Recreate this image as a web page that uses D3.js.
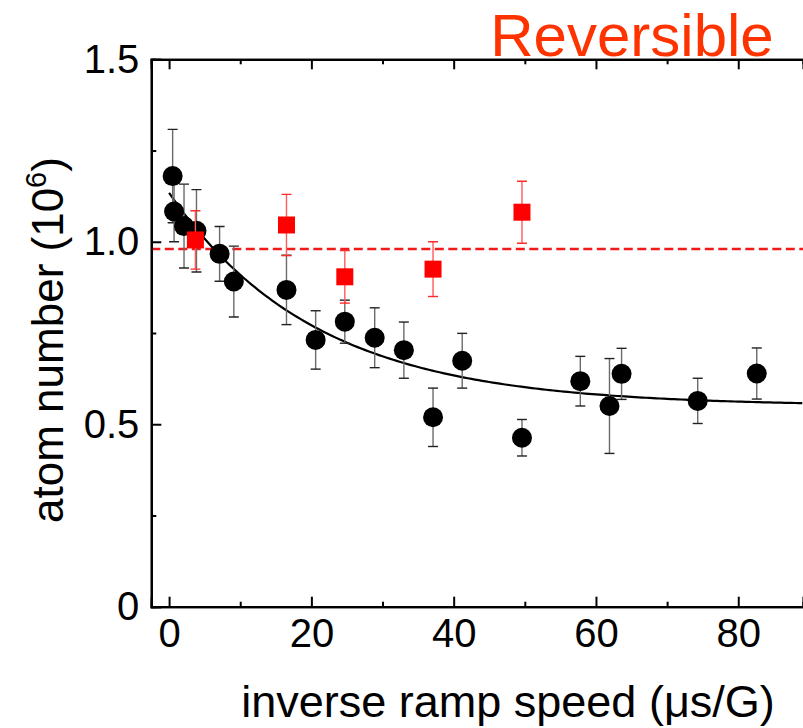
<!DOCTYPE html>
<html>
<head>
<meta charset="utf-8">
<script src="https://cdn.jsdelivr.net/npm/d3@7"></script>
<style>
  html, body { margin: 0; padding: 0; background: #fff; }
  svg { display: block; font-family: "Liberation Sans", Arial, sans-serif; }
</style>
</head>
<body>
<svg id="chart" width="803" height="728"></svg>
<script>
// Atom number after a ramp, vs. inverse ramp speed
const rampX     = [0.5, 0.7, 2.1, 3.85, 7.1, 9.1, 16.5, 20.6, 24.7, 28.9, 33.0, 37.1, 41.2, 49.6, 57.8, 61.9, 63.6, 74.3, 82.6];
const rampY     = [1.18, 1.083, 1.043, 1.03, 0.967, 0.891, 0.868, 0.731, 0.781, 0.737, 0.703, 0.519, 0.674, 0.463, 0.618, 0.55, 0.638, 0.564, 0.639];
const rampErr   = [0.128, 0.083, 0.115, 0.113, 0.075, 0.097, 0.095, 0.08, 0.059, 0.082, 0.077, 0.08, 0.075, 0.05, 0.068, 0.13, 0.07, 0.062, 0.07];

// Reversible (round-trip) ramp
const revX      = [3.7, 16.5, 24.7, 37.1, 49.6];
const revY      = [1.005, 1.046, 0.904, 0.925, 1.081];
const revErr    = [0.08, 0.084, 0.072, 0.075, 0.085];

// Reference level (no ramp)
const refLevel  = [0.98];

// Exponential fit: offset, amplitude, decay constant (µs/G)
const fitParams = [0.55, 0.584, 20.6];

const xTicksMajor = [0, 20, 40, 60, 80];
const xTicksMinor = [10, 30, 50, 70];
const yTicksMajor = [0, 0.5, 1.0, 1.5];
const yTickLabels = ["0", "0.5", "1.0", "1.5"];
const yTicksMinor = [0.25, 0.75, 1.25];

const svg = d3.select("#chart");
const L = 151.3, R = 803, T = 59.3, B = 606.7;

const x = d3.scaleLinear().domain([-2.5, 89.1]).range([L, R]);
const y = d3.scaleLinear().domain([0, 1.5]).range([B, T]);

svg.append("defs").append("clipPath").attr("id", "plotclip")
  .append("rect").attr("x", L).attr("y", T - 20).attr("width", R - L).attr("height", B - T + 20);

const plot = svg.append("g").attr("clip-path", "url(#plotclip)");

// dashed reference line
plot.append("line")
  .attr("x1", x(-2.5)).attr("x2", x(89.1))
  .attr("y1", y(refLevel[0])).attr("y2", y(refLevel[0]))
  .attr("stroke", "#f01a1a").attr("stroke-width", 2.4)
  .attr("stroke-dasharray", "9,4.5");

// fitted curve
const [c0, a0, tau] = fitParams;
const fitXs = d3.range(0, 89.2, 0.5);
plot.append("path")
  .datum(fitXs)
  .attr("fill", "none").attr("stroke", "#000").attr("stroke-width", 2.2)
  .attr("d", d3.line().x(d => x(d)).y(d => y(c0 + a0 * Math.exp(-d / tau))));

function errorBars(g, xs, ys, es, barColor, capColor) {
  const gg = g.append("g");
  xs.forEach((xv, i) => {
    const px = x(xv), top = y(ys[i] + es[i]), bot = y(ys[i] - es[i]);
    gg.append("line").attr("x1", px).attr("x2", px).attr("y1", top).attr("y2", bot)
      .attr("stroke", barColor).attr("stroke-width", 1.4);
    [top, bot].forEach(py => {
      gg.append("line").attr("x1", px - 5).attr("x2", px + 5).attr("y1", py).attr("y2", py)
        .attr("stroke", capColor).attr("stroke-width", 1.4);
    });
  });
}

errorBars(plot, rampX, rampY, rampErr, "#6a6a6a", "#222");
plot.append("g").selectAll("circle").data(rampX).join("circle")
  .attr("cx", d => x(d)).attr("cy", (d, i) => y(rampY[i])).attr("r", 10)
  .attr("fill", "#000");

errorBars(plot, revX, revY, revErr, "#ff5a5a", "#ff2a2a");
plot.append("g").selectAll("rect").data(revX).join("rect")
  .attr("x", d => x(d) - 8.5).attr("y", (d, i) => y(revY[i]) - 8.5)
  .attr("width", 17).attr("height", 17)
  .attr("fill", "#ff0000");

// axes
const tickFont = 40;
const titleFont = 45;
svg.append("g").attr("transform", `translate(0,${B})`)
  .call(d3.axisBottom(x).tickValues(xTicksMajor).tickSize(-10).tickPadding(12).tickFormat(d3.format("d")));
svg.append("g").attr("transform", `translate(0,${B})`)
  .call(d3.axisBottom(x).tickValues(xTicksMinor).tickSize(-5).tickFormat(""));
svg.append("g").attr("transform", `translate(0,${T})`)
  .call(d3.axisTop(x).tickValues(xTicksMajor).tickSize(-10).tickFormat(""));
svg.append("g").attr("transform", `translate(0,${T})`)
  .call(d3.axisTop(x).tickValues(xTicksMinor).tickSize(-5).tickFormat(""));
svg.append("g").attr("transform", `translate(${L},0)`)
  .call(d3.axisLeft(y).tickValues(yTicksMajor).tickSize(-10).tickPadding(12)
    .tickFormat((d, i) => yTickLabels[i]));
svg.append("g").attr("transform", `translate(${L},0)`)
  .call(d3.axisLeft(y).tickValues(yTicksMinor).tickSize(-5).tickFormat(""));

svg.selectAll(".domain").attr("stroke", "#000").attr("stroke-width", 2.2);
svg.selectAll(".tick line").attr("stroke", "#000").attr("stroke-width", 2);
svg.selectAll(".tick text").attr("font-size", tickFont)
  .attr("font-family", "'Liberation Sans', Arial, sans-serif").attr("fill", "#000");

// axis titles
svg.append("text")
  .attr("x", 508).attr("y", 717)
  .attr("text-anchor", "middle").attr("font-size", titleFont)
  .text("inverse ramp speed (μs/G)");

const yTitle = svg.append("text")
  .attr("transform", `translate(63,340) rotate(-90)`)
  .attr("text-anchor", "middle").attr("font-size", 44);
yTitle.append("tspan").text("atom number (10");
yTitle.append("tspan").attr("font-size", 29).attr("dy", -17).text("6");
yTitle.append("tspan").attr("dy", 17).text(")");

// panel label
svg.append("text")
  .attr("x", 632).attr("y", 56)
  .attr("text-anchor", "middle").attr("font-size", 60)
  .attr("fill", "#ff3300")
  .text("Reversible");
</script>
</body>
</html>
